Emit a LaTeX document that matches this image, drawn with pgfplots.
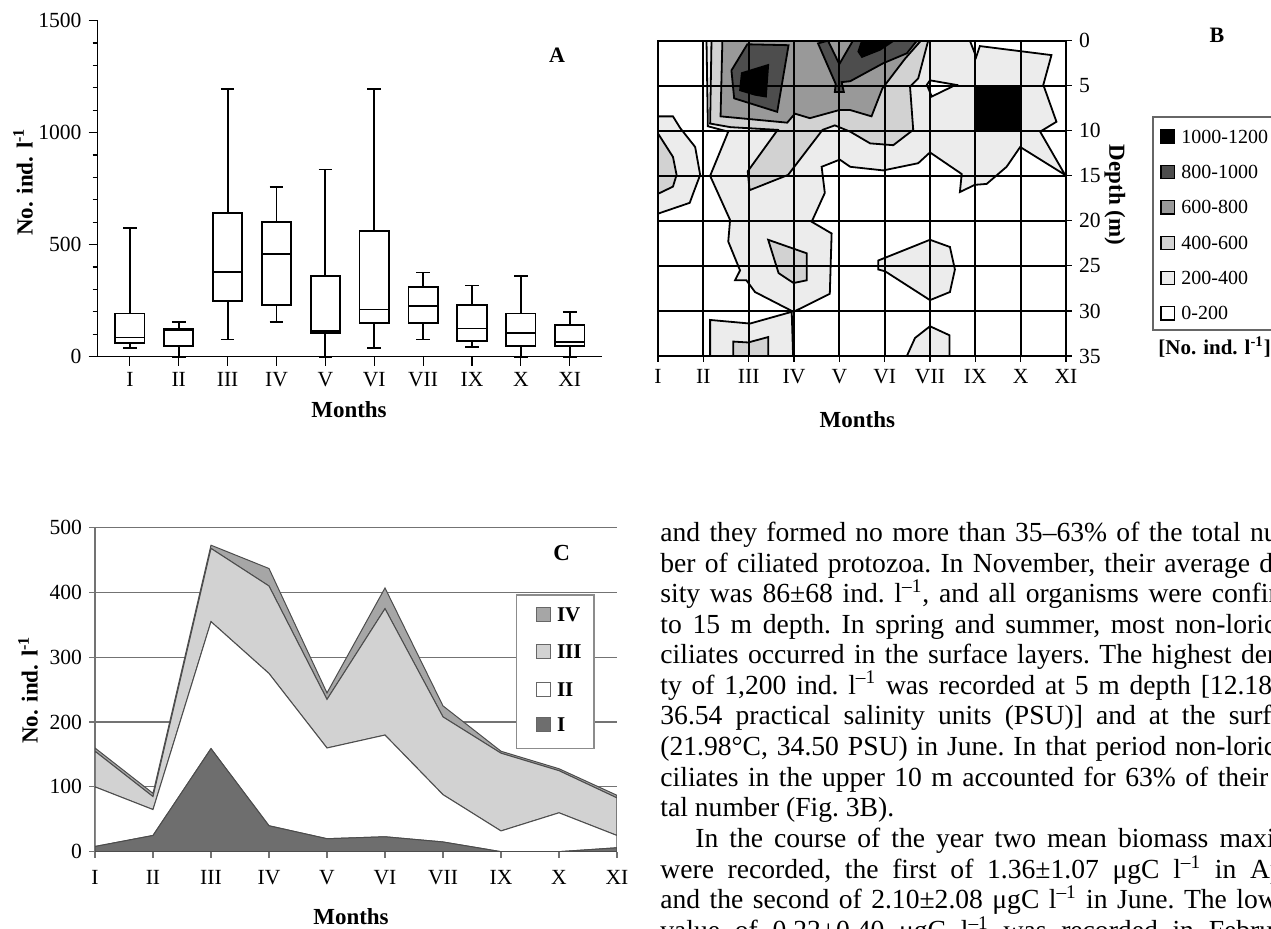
\documentclass[border=0pt]{standalone}
\usepackage{fontspec}
\setmainfont{Liberation Serif}
\usepackage{pgfplots}
\pgfplotsset{compat=1.18}
\definecolor{bTwo}{HTML}{ECECEC}
\definecolor{bFour}{HTML}{D2D2D2}
\definecolor{bSix}{HTML}{999999}
\definecolor{bEight}{HTML}{4D4D4D}
\definecolor{cI}{HTML}{6E6E6E}
\definecolor{cIII}{HTML}{D2D2D2}
\definecolor{cIV}{HTML}{A6A6A6}
\newcommand{\tfont}{\fontsize{10.8}{12}\selectfont}
\newcommand{\lfont}{\fontsize{11.5}{13}\selectfont\bfseries}
\newcommand{\bodyfont}{\fontsize{13.8}{15}\selectfont\frenchspacing}
% box: position, lower whisker, lower quartile, median, upper quartile, upper whisker
\newcommand{\boxp}[6]{%
 \pgfmathsetmacro\xl{#1-0.3}\pgfmathsetmacro\xr{#1+0.3}%
 \pgfmathsetmacro\cl{#1-0.14}\pgfmathsetmacro\cr{#1+0.14}%
 \edef\doit{%
  \noexpand\addplot[bx] coordinates {(\xl,#3) (\xr,#3) (\xr,#5) (\xl,#5)} -- cycle;%
  \noexpand\addplot[bx] coordinates {(\xl,#4) (\xr,#4)};%
  \noexpand\addplot[bx] coordinates {(#1,#5) (#1,#6)};%
  \noexpand\addplot[bx] coordinates {(\cl,#6) (\cr,#6)};%
  \noexpand\addplot[bx] coordinates {(#1,#3) (#1,#2)};%
  \noexpand\addplot[bx] coordinates {(\cl,#2) (\cr,#2)};%
 }\doit}
\begin{document}
\begin{tikzpicture}
\path[use as bounding box] (0pt,0pt) rectangle (635.5pt,464.5pt);
\clip (0pt,0pt) rectangle (635.5pt,464.5pt);

% ---------------- Panel A ----------------
\begin{axis}[
  at={(48.8pt,286.15pt)}, anchor=south west, scale only axis,
  width=252.2pt, height=168pt,
  xmin=-0.66, xmax=9.66, ymin=0, ymax=1500,
  axis x line*=bottom, axis y line*=left,
  axis line style={black, line width=0.8pt},
  xtick={0,...,9}, xticklabels={I,II,III,IV,V,VI,VII,IX,X,XI},
  ytick={0,500,1000,1500}, minor y tick num=4,
  tick align=outside, major tick length=4.5pt, minor tick length=2.5pt,
  tick style={black, line width=0.6pt},
  tick label style={font=\tfont},
  /pgf/number format/assume math mode=true,
  scaled y ticks=false, yticklabel style={/pgf/number format/1000 sep={}},
  bx/.style={black, line width=0.9pt, mark=none},
  clip=false,
]
\boxp{0}{37}{60}{86}{193}{576}
\boxp{1}{0}{49}{118}{122}{156}
\boxp{2}{77}{248}{379}{640}{1195}
\boxp{3}{156}{229}{458}{600}{756}
\boxp{4}{0}{107}{115}{360}{836}
\boxp{5}{37}{149}{211}{561}{1195}
\boxp{6}{77}{149}{228}{312}{376}
\boxp{7}{45}{71}{126}{231}{318}
\boxp{8}{0}{49}{104}{193}{359}
\boxp{9}{0}{49}{64}{141}{198}
\end{axis}

% ---------------- Panel B ----------------
\begin{axis}[
  at={(329pt,286.5pt)}, anchor=south west, scale only axis,
  width=204pt, height=157.65pt,
  xmin=0, xmax=9, ymin=0, ymax=35, y dir=reverse,
  xtick={0,...,9}, xticklabels={I,II,III,IV,V,VI,VII,IX,X,XI},
  ytick={0,5,...,35},
  grid=major, major grid style={black, line width=0.9pt},
  axis line style={black, line width=0.9pt},
  axis on top,
  xtick pos=left, ytick pos=right, yticklabel pos=right,
  tick align=outside, major tick length=3pt,
  tick style={black, line width=0.6pt},
  tick label style={font=\tfont},
  /pgf/number format/assume math mode=true,
]
\addplot[fill=bTwo, draw=black, line width=0.9pt] coordinates {(1.07,0) (1.10,9.5) (1.55,10.1) (1.15,15.0) (1.59,19.9) (1.55,22.3) (1.81,25.5) (1.70,26.6) (1.95,26.6) (2.14,27.9) (2.99,30.1) (3.79,28.1) (3.83,21.4) (3.39,20.1) (3.68,16.9) (3.61,14.0) (4.01,13.2) (4.24,14.0) (4.97,14.4) (5.74,13.6) (6.00,12.4) (6.70,14.8) (6.66,16.8) (6.99,16.0) (7.25,15.9) (7.69,14.0) (7.99,11.8) (8.98,14.9) (8.43,10.1) (8.79,9.0) (8.50,4.9) (8.68,1.6) (7.10,0.6) (7.02,1.8) (6.88,0)} -- cycle;
\addplot[fill=bTwo, draw=black, line width=0.9pt] coordinates {(0,8.4) (0.33,8.4) (0.49,9.7) (0.82,11.8) (0.93,14.9) (0.78,16.9) (0.70,18.0) (0,19.2)} -- cycle;
\addplot[fill=bTwo, draw=black, line width=0.9pt] coordinates {(1.15,35) (1.15,31.0) (2.03,31.4) (2.95,30.1) (2.98,35)} -- cycle;
\addplot[fill=bTwo, draw=black, line width=0.9pt] coordinates {(4.86,24.4) (6.0,22.1) (6.44,22.9) (6.55,25.4) (6.44,27.9) (6.0,28.8) (5.01,25.6) (4.86,25.4)} -- cycle;
\addplot[fill=bTwo, draw=black, line width=0.9pt] coordinates {(5.49,35) (5.67,33.0) (6.0,31.7) (6.43,32.7) (6.43,35)} -- cycle;
\addplot[fill=white, draw=black, line width=0.9pt] coordinates {(5.93,4.9) (6.0,4.4) (6.57,4.9) (6.04,6.2)} -- cycle;
\addplot[fill=bFour, draw=black, line width=0.9pt] coordinates {(1.18,0) (1.15,9.2) (1.6,9.6) (2.64,9.9) (1.98,14.5) (2.02,16.6) (2.87,14.9) (3.63,9.9) (3.9,9.4) (4.24,10.1) (4.68,11.4) (5.19,11.6) (5.63,9.9) (5.56,5.1) (5.74,4.2) (5.96,0)} -- cycle;
\addplot[fill=bFour, draw=black, line width=0.9pt] coordinates {(0,10.3) (0.33,12.9) (0.41,14.9) (0.33,16.2) (0,17.0)} -- cycle;
\addplot[fill=bFour, draw=black, line width=0.9pt] coordinates {(2.43,22.1) (3.28,23.6) (3.28,26.6) (2.99,26.9) (2.66,25.8)} -- cycle;
\addplot[fill=bFour, draw=black, line width=0.9pt] coordinates {(1.66,35) (1.66,33.4) (1.99,33.5) (2.43,32.9) (2.43,35)} -- cycle;
\addplot[fill=bSix, draw=black, line width=0.9pt] coordinates {(1.42,0) (1.38,8.4) (2.85,9.1) (3.02,8.1) (3.35,8.6) (4.0,7.7) (4.24,7.7) (4.71,8.4) (4.95,5.3) (5.45,2.0) (5.8,0)} -- cycle;
\addplot[fill=bEight, draw=black, line width=0.9pt] coordinates {(1.62,3.3) (1.97,0.4) (2.88,0.5) (2.63,7.9) (1.68,6.4)} -- cycle;
\addplot[fill=bEight, draw=black, line width=0.9pt] coordinates {(3.53,0.3) (3.92,4.8) (3.9,5.7) (4.1,5.7) (4.05,4.6) (4.24,4.5) (4.97,2.5) (5.49,1.4) (5.71,0) (4.3,0) (4.0,2.6) (3.75,0)} -- cycle;
\addplot[fill=black, draw=black, line width=0.9pt] coordinates {(1.85,3.6) (2.43,2.7) (2.38,6.2) (2.14,6.0) (1.81,5.5)} -- cycle;
\addplot[fill=black, draw=black, line width=0.9pt] coordinates {(4.42,1.2) (4.5,1.8) (4.9,1.0) (5.2,0) (4.5,0)} -- cycle;
\addplot[fill=black, draw=black, line width=0.9pt] coordinates {(7,5) (8,5) (8,10) (7,10)} -- cycle;
\end{axis}

% ---------------- Panel C ----------------
\begin{axis}[
  at={(47.5pt,38.65pt)}, anchor=south west, scale only axis,
  width=261pt, height=162pt,
  xmin=0, xmax=9, ymin=0, ymax=500,
  stack plots=y,
  axis x line*=bottom, axis y line*=left,
  axis line style={black!55, line width=0.7pt},
  xtick={0,...,9}, xticklabels={I,II,III,IV,V,VI,VII,IX,X,XI},
  ytick={0,100,...,500}, ymajorgrids, major grid style={black!55, line width=0.6pt},
  tick align=outside, major tick length=3pt,
  tick style={black!55, line width=0.6pt},
  tick label style={font=\tfont},
  xticklabel style={yshift=-3pt},
  /pgf/number format/assume math mode=true,
]
\addplot[fill=cI, draw=black!70, line width=0.5pt] coordinates {(0,8) (1,25) (2,159) (3,40) (4,20) (5,23) (6,15) (7,0) (8,0) (9,6)} \closedcycle;
\addplot[fill=white, draw=black!70, line width=0.5pt] coordinates {(0,92) (1,40) (2,196) (3,235) (4,140) (5,157) (6,73) (7,32) (8,60) (9,19)} \closedcycle;
\addplot[fill=cIII, draw=black!70, line width=0.5pt] coordinates {(0,55) (1,20) (2,113) (3,135) (4,75) (5,195) (6,120) (7,120) (8,65) (9,58)} \closedcycle;
\addplot[fill=cIV, draw=black!70, line width=0.5pt] coordinates {(0,5) (1,5) (2,5) (3,27) (4,10) (5,32) (6,17) (7,3) (8,3) (9,4)} \closedcycle;
\end{axis}

\begin{scope}[x=1pt,y=1pt]
% ---------------- Labels ----------------
\node[rotate=90, font=\lfont] at (11.5,373.5) {No. ind. l\textsuperscript{-1}};
\node[font=\lfont] at (174.5,259.5) {Months};
\node[font=\fontsize{11}{13}\selectfont\bfseries] at (278.5,437) {A};

\node[font=\fontsize{11}{13}\selectfont\bfseries] at (608.5,447) {B};
\node[rotate=-90, font=\lfont] at (557.5,367) {Depth (m)};
\node[font=\lfont] at (428.65,254.5) {Months};
\draw[black!60, line width=0.6pt, fill=white] (576.5,406) rectangle (640,299.5);
\foreach \yy/\cc/\tt in {396.25/black/1000-1200, 378.6/bEight/800-1000, 360.8/bSix/600-800, 343.1/bFour/400-600, 325.4/bTwo/200-400, 307.8/white/0-200}{
  \draw[black, line width=0.6pt, fill=\cc] (580.5,\yy-3.3) rectangle (587.2,\yy+3.3);
  \node[anchor=west, inner sep=0, font=\fontsize{10}{12}\selectfont] at (590.5,\yy) {\tt};
}
\node[anchor=west, inner sep=0, font=\fontsize{10.5}{12}\selectfont\bfseries] at (579,291) {[No. ind. l\textsuperscript{-1}]};

\node[rotate=90, font=\lfont] at (14,119.5) {No. ind. l\textsuperscript{-1}};
\node[font=\lfont] at (175.5,6) {Months};
\node[font=\fontsize{11.5}{13}\selectfont\bfseries] at (280.85,187.85) {C};
\draw[black!45, line width=0.6pt, fill=white] (258.35,167) rectangle (297,90.35);
\foreach \yy/\cc/\tt in {157/cIV/IV, 138.65/cIII/III, 119.5/white/II, 102/cI/I}{
  \draw[black!60, line width=0.5pt, fill=\cc] (268,\yy-3.5) rectangle (275,\yy+3.5);
  \node[anchor=west, inner sep=0, font=\fontsize{10.5}{12}\selectfont\bfseries] at (278.3,\yy) {\tt};
}

% ---------------- Body text ----------------
\begin{scope}[every node/.style={anchor=base west, inner sep=0, font=\bodyfont}]
\node at (330,193.65) {\makebox[324pt][s]{and they formed no more than 35–63\% of the total num-}};
\node at (330,178.375) {\makebox[324pt][s]{ber of ciliated protozoa. In November, their average den-}};
\node at (330,163.1) {\makebox[324pt][s]{sity was 86±68 ind. l\textsuperscript{–1}, and all organisms were confined}};
\node at (330,147.825) {\makebox[324pt][s]{to 15 m depth. In spring and summer, most non-loricate}};
\node at (330,132.55) {\makebox[324pt][s]{ciliates occurred in the surface layers. The highest densi-}};
\node at (330,117.275) {\makebox[324pt][s]{ty of 1,200 ind. l\textsuperscript{–1} was recorded at 5 m depth [12.18°C,}};
\node at (330,102.0) {\makebox[324pt][s]{36.54 practical salinity units (PSU)] and at the surface}};
\node at (330,86.725) {\makebox[324pt][s]{(21.98°C, 34.50 PSU) in June. In that period non-loricate}};
\node at (330,71.45) {\makebox[324pt][s]{ciliates in the upper 10 m accounted for 63\% of their to-}};
\node at (330,56.175) {tal number (Fig. 3B).};
\node at (347.5,40.5) {\makebox[306.5pt][s]{In the course of the year two mean biomass maxima}};
\node at (330,25.25) {\makebox[324pt][s]{were recorded, the first of 1.36±1.07 μgC l\textsuperscript{–1} in April}};
\node at (330,10.0) {\makebox[324pt][s]{and the second of 2.10±2.08 μgC l\textsuperscript{–1} in June. The lowest}};
\node at (330,-5.25) {\makebox[324pt][s]{value of 0.22±0.40 μgC l\textsuperscript{–1} was recorded in February}};
\end{scope}
\end{scope}
\end{tikzpicture}
\end{document}
